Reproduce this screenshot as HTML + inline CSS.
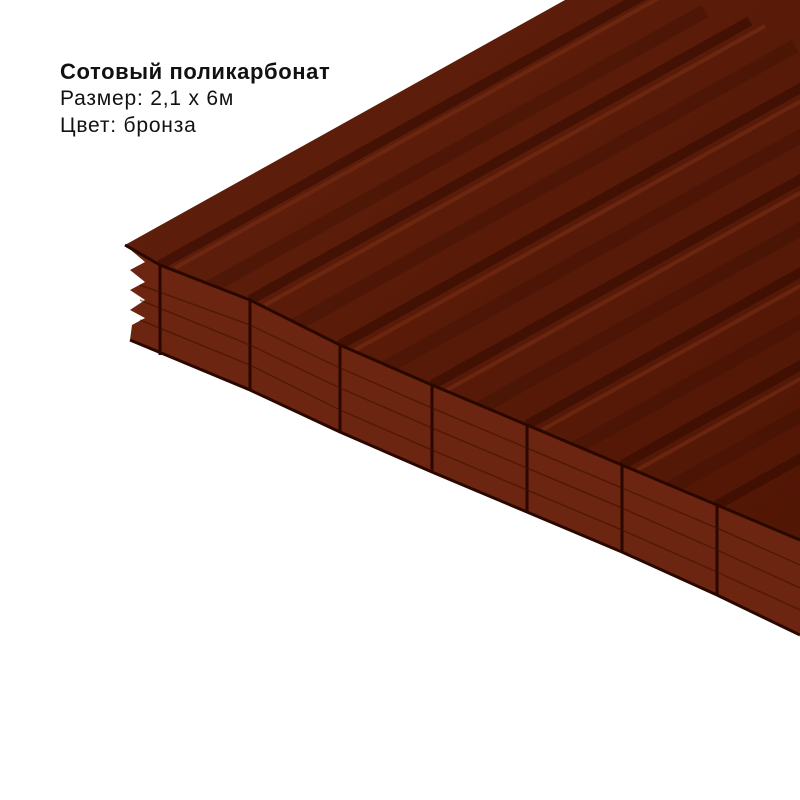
<!DOCTYPE html><html><head><meta charset="utf-8"><style>body{margin:0;width:800px;height:800px;background:#fff;overflow:hidden;position:relative;font-family:"Liberation Sans",sans-serif}
.t{position:absolute;left:60px;color:#111;font-size:21px;letter-spacing:0.8px}</style></head><body>
<svg width="800" height="800" style="position:absolute;left:0;top:0">
<defs><clipPath id="top"><polygon points="125,245 565,0 800,0 800,540 717,505 622,465 527,425 432,385 340,345 250,300 160,265"/></clipPath>
<linearGradient id="g" x1="0" y1="0" x2="1" y2="1"><stop offset="0" stop-color="#60200c"/><stop offset="1" stop-color="#521605"/></linearGradient></defs>
<polygon points="125,245 565,0 800,0 800,540 717,505 622,465 527,425 432,385 340,345 250,300 160,265" fill="url(#g)"/>
<g clip-path="url(#top)" stroke-width="10" fill="none">
<g stroke="#360c02" opacity=".6">
<line x1="160" y1="265" x2="660" y2="-14"/><line x1="250" y1="300" x2="750" y2="21"/><line x1="340" y1="345" x2="840" y2="66"/><line x1="432" y1="385" x2="932" y2="106"/><line x1="527" y1="425" x2="1027" y2="146"/><line x1="622" y1="465" x2="1122" y2="186"/><line x1="717" y1="505" x2="1217" y2="226"/></g>
<g stroke="#80341a" opacity=".45" stroke-width="4">
<line x1="175" y1="268" x2="675" y2="-11"/><line x1="265" y1="305" x2="765" y2="26"/><line x1="355" y1="350" x2="855" y2="71"/><line x1="447" y1="390" x2="947" y2="111"/><line x1="542" y1="430" x2="1042" y2="151"/><line x1="637" y1="470" x2="1137" y2="191"/></g>
<g stroke="#421204" opacity=".5" stroke-width="14">
<line x1="205" y1="290" x2="705" y2="11"/><line x1="295" y1="325" x2="795" y2="46"/><line x1="385" y1="368" x2="885" y2="89"/><line x1="480" y1="408" x2="980" y2="129"/><line x1="575" y1="448" x2="1075" y2="169"/><line x1="670" y1="488" x2="1170" y2="209"/></g>
</g>
<polygon points="125,245 160,265 250,300 340,345 432,385 527,425 622,465 717,505 800,540 800,635 717,595 622,552 527,512 432,472 340,432 250,390 130,340 132,325 145,318 130,310 145,300 130,290 145,282 130,270 145,262" fill="#6c2510"/>
<g stroke="#2a0800" stroke-width="3" fill="none">
<polyline points="125,245 160,265 250,300 340,345 432,385 527,425 622,465 717,505 800,540"/>
<polyline points="130,340 250,390 340,432 432,472 527,512 622,552 717,595 800,635"/>
<line x1="160" y1="265" x2="160" y2="355"/><line x1="250" y1="300" x2="250" y2="390"/><line x1="340" y1="345" x2="340" y2="432"/><line x1="432" y1="385" x2="432" y2="472"/><line x1="527" y1="425" x2="527" y2="512"/><line x1="622" y1="465" x2="622" y2="552"/><line x1="717" y1="505" x2="717" y2="595"/>
</g>
<g stroke="#3a0e02" stroke-width="1.5" opacity=".5" fill="none">
<polyline points="140,300 250,345 340,388 432,428 527,468 622,508 717,550 800,588"/>
<polyline points="140,285 250,325 340,368 432,408 527,448 622,488 717,528 800,565"/>
<polyline points="140,320 250,365 340,410 432,450 527,490 622,530 717,572 800,610"/>
</g>
</svg>
<div class="t" style="top:59px;font-weight:bold;font-size:22px;letter-spacing:0.6px">Сотовый поликарбонат</div>
<div class="t" style="top:87px">Размер: 2,1 х 6м</div>
<div class="t" style="top:114px">Цвет: бронза</div>
</body></html>
